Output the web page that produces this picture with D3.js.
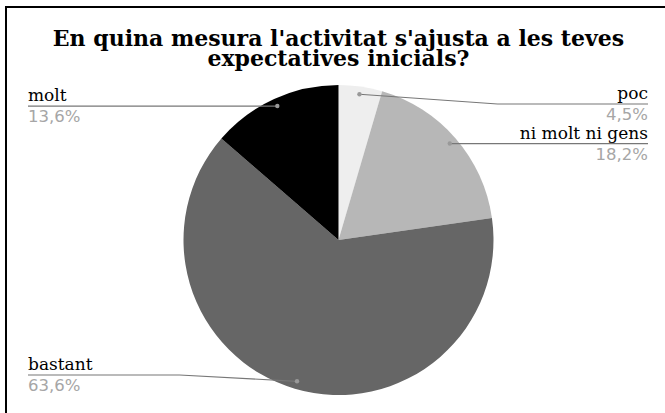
<!DOCTYPE html>
<html>
<head>
<meta charset="utf-8">
<script src="https://cdn.jsdelivr.net/npm/d3@7"></script>
<style>
  html, body { margin: 0; padding: 0; background: #fff; }
  svg { display: block; }
</style>
</head>
<body>
<svg id="chart" width="665" height="413"></svg>
<script>
const titleLines = ["En quina mesura l'activitat s'ajusta a les teves", "expectatives inicials?"];
const categories = ["poc", "ni molt ni gens", "bastant", "molt"];
const counts = [1, 4, 14, 3];
const percentLabels = ["4,5%", "18,2%", "63,6%", "13,6%"];
const colors = ["#eeeeee", "#b7b7b7", "#666666", "#000000"];

const W = 665, H = 413;
const svg = d3.select("#chart");
svg.append("rect").attr("width", W).attr("height", H).attr("fill", "#fff");

// frame (cropped at right/bottom)
svg.append("path")
  .attr("d", `M6,${H + 2} L6,7 L${W + 2},7`)
  .attr("fill", "none").attr("stroke", "#000").attr("stroke-width", 2);

// title
const title = svg.append("text")
  .attr("x", 338.5).attr("text-anchor", "middle")
  .attr("font-family", "DejaVu Serif").attr("font-weight", "bold")
  .attr("font-size", 22).attr("fill", "#000");
titleLines.forEach((t, i) => {
  title.append("tspan").attr("x", 338.5).attr("y", 46 + i * 20).text(t);
});

const cx = 338.5, cy = 240, r = 155;
const data = categories.map((c, i) => ({ cat: c, value: counts[i], pct: percentLabels[i], color: colors[i] }));
const pie = d3.pie().value(d => d.value).sort(null);
const arcs = pie(data);
const arc = d3.arc().innerRadius(0).outerRadius(r);
const dotArc = d3.arc().innerRadius(r * 0.95).outerRadius(r * 0.95);

const g = svg.append("g").attr("transform", `translate(${cx},${cy})`);
g.selectAll("path.slice").data(arcs).enter().append("path")
  .attr("class", "slice")
  .attr("d", arc)
  .attr("fill", d => d.data.color);

// labels with leader lines
const leftX = 28, rightX = 648;
const yMin = 104, yMax = 375;
arcs.forEach(a => {
  const [dx, dy] = dotArc.centroid(a);
  const px = cx + dx, py = cy + dy;
  const mid = (a.startAngle + a.endAngle) / 2;
  const right = Math.sin(mid) > 0;
  const ly = Math.max(yMin, Math.min(yMax, py));
  const kneeX = right ? cx + r + 4 : cx - r - 4;
  const endX = right ? rightX : leftX;
  const pts = Math.abs(ly - py) < 0.5 ? [[px, py], [endX, ly]] : [[px, py], [kneeX, ly], [endX, ly]];
  svg.append("path")
    .attr("d", d3.line()(pts))
    .attr("fill", "none").attr("stroke", "#777").attr("stroke-width", 1.2);
  svg.append("circle").attr("cx", px).attr("cy", py).attr("r", 2.2).attr("fill", "#999");
  const anchor = right ? "end" : "start";
  svg.append("text")
    .attr("x", endX).attr("y", ly - 5)
    .attr("text-anchor", anchor)
    .attr("font-family", "DejaVu Serif").attr("font-size", 17)
    .attr("fill", "#000").text(a.data.cat);
  svg.append("text")
    .attr("x", endX).attr("y", ly + 16)
    .attr("text-anchor", anchor)
    .attr("font-family", "DejaVu Sans").attr("font-size", 16.5)
    .attr("fill", "#a6a6a6").text(a.data.pct);
});
</script>
</body>
</html>
